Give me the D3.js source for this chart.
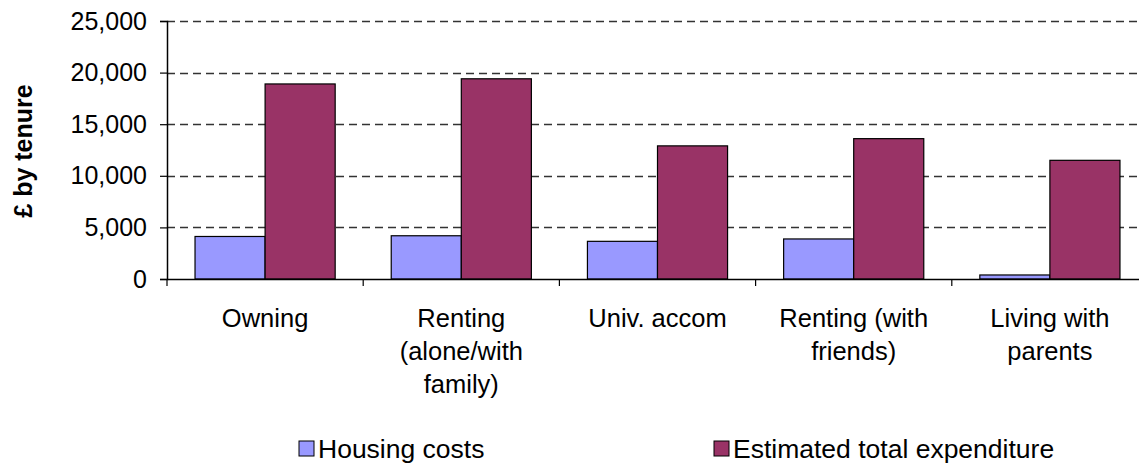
<!DOCTYPE html>
<html>
<head>
<meta charset="utf-8">
<script src="https://cdn.jsdelivr.net/npm/d3@7"></script>
<style>
  html, body { margin: 0; padding: 0; background: #fff; }
  svg { display: block; }
  text { font-family: "Liberation Sans", Arial, sans-serif; fill: #000; }
</style>
</head>
<body>
<svg id="chart" width="1139" height="465"></svg>
<script>
const categories = [
  ["Owning"],
  ["Renting", "(alone/with", "family)"],
  ["Univ. accom"],
  ["Renting (with", "friends)"],
  ["Living with", "parents"]
];
const seriesNames = ["Housing costs", "Estimated total expenditure"];
const housingCosts = [4120, 4190, 3650, 3880, 390];
const totalExpenditure = [18900, 19400, 12900, 13600, 11500];
const yTicks = [0, 5000, 10000, 15000, 20000, 25000];
const colors = ["#9999FF", "#993366"];

const svg = d3.select("#chart");
const mLeft = 167, mTop = 21, mBottom = 279, mRight = 1148;

const x0 = d3.scaleBand().domain(d3.range(categories.length)).range([mLeft, mRight]).paddingInner(0).paddingOuter(0);
const x1 = d3.scaleBand().domain([0, 1]).range([0, x0.bandwidth()]).paddingInner(0).paddingOuter(0.4);
const y = d3.scaleLinear().domain([0, 25000]).range([mBottom, mTop]);

// gridlines
svg.append("g").selectAll("line").data(yTicks.filter(d => d > 0)).join("line")
  .attr("x1", mLeft).attr("x2", 1139)
  .attr("y1", d => Math.round(y(d)) + 0.5).attr("y2", d => Math.round(y(d)) + 0.5)
  .attr("stroke", "#333").attr("stroke-width", 1.3).attr("stroke-dasharray", "8,5");

// bars
const values = [housingCosts, totalExpenditure];
const groups = svg.append("g").selectAll("g").data(categories.map((c, i) => i)).join("g")
  .attr("transform", i => `translate(${x0(i)},0)`);
groups.selectAll("rect").data(i => [0, 1].map(s => ({s, v: values[s][i]}))).join("rect")
  .attr("x", d => x1(d.s)).attr("width", x1.bandwidth())
  .attr("y", d => y(d.v)).attr("height", d => y(0) - y(d.v))
  .attr("fill", d => colors[d.s]).attr("stroke", "#000").attr("stroke-width", 1.2);

// y axis
const yAxis = d3.axisLeft(y).tickValues(yTicks).tickSize(7).tickPadding(13).tickFormat(d3.format(","));
const yg = svg.append("g").attr("transform", `translate(${mLeft},0)`).call(yAxis);
yg.select(".domain").attr("stroke", "#000").attr("stroke-width", 1.5);
yg.selectAll(".tick line").attr("stroke", "#000").attr("stroke-width", 1.2);
yg.selectAll(".tick text").attr("font-size", 25).attr("font-family", "Liberation Sans, Arial, sans-serif").attr("fill", "#000");

// x axis
const xAxis = d3.axisBottom(x0).tickSize(0).tickFormat("");
const xg = svg.append("g").attr("transform", `translate(0,${mBottom})`).call(xAxis);
xg.select(".domain").attr("stroke", "#000").attr("stroke-width", 1.5);
xg.selectAll(".tick").remove();
const boundaries = d3.range(categories.length).map(i => x0(i)).concat([mRight]);
xg.selectAll("line.bt").data(boundaries).join("line").attr("class", "bt")
  .attr("x1", d => d).attr("x2", d => d).attr("y1", 0).attr("y2", 7)
  .attr("stroke", "#000").attr("stroke-width", 1.2);

// category labels
const labels = svg.append("g").selectAll("text").data(categories).join("text")
  .attr("text-anchor", "middle").attr("font-size", 25.5)
  .attr("transform", (d, i) => `translate(${x0(i) + x0.bandwidth() / 2},327)`);
labels.selectAll("tspan").data(d => d).join("tspan")
  .attr("x", 0).attr("y", (d, j) => j * 33).text(d => d);

// y title
svg.append("text").attr("transform", "translate(32,151) rotate(-90)")
  .attr("text-anchor", "middle").attr("font-size", 25).attr("font-weight", "bold")
  .text("£ by tenure");

// legend
const legendPos = [299, 714];
const lg = svg.append("g").selectAll("g").data(seriesNames).join("g")
  .attr("transform", (d, i) => `translate(${legendPos[i]},441)`);
lg.append("rect").attr("width", 15).attr("height", 15)
  .attr("fill", (d, i) => colors[i]).attr("stroke", "#000").attr("stroke-width", 1);
lg.append("text").attr("x", 19).attr("y", 17).attr("font-size", 26.5).attr("letter-spacing", 0).text(d => d);
</script>
</body>
</html>
